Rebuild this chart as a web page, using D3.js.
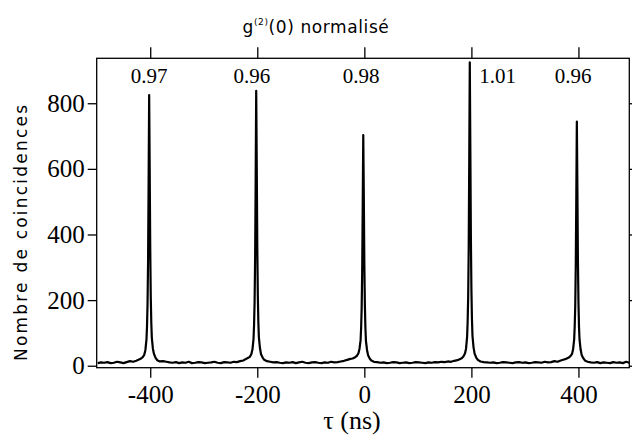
<!DOCTYPE html>
<html lang="fr">
<head>
  <meta charset="UTF-8" />
  <title>g2 coincidences</title>
  <script src="https://d3js.org/d3.v7.min.js"></script>
  <style>
    body { margin: 0; background: white; }
    svg { display: block; }
  </style>
</head>
<body>
  <svg id="chart" width="632" height="436"></svg>
  <script>
    const SERIF = '"Liberation Serif", "DejaVu Serif", serif';
    const SANS = '"DejaVu Sans", sans-serif';

    // delay tau (ns)
    const tau = [
      -498, -492, -486, -480, -474, -468, -462, -456, -450, -444, -438, -432, -426,
      -422, -417, -414, -411, -409, -407, -406, -405, -404, -403, -402, -401, -400, -399, -398, -397, -395, -393, -390, -387, -382,
      -376, -370, -364, -358, -352, -346, -340, -334, -328, -322, -316, -310, -304, -298, -292, -286, -280, -274, -268, -262, -256, -250, -244, -238, -232, -226,
      -222, -217, -214, -211, -209, -207, -206, -205, -204, -203, -202, -201, -200, -199, -198, -197, -195, -193, -190, -187, -182,
      -176, -170, -164, -158, -152, -146, -140, -134, -128, -122, -116, -110, -104, -98, -92, -86, -80, -74, -68, -62, -56, -50, -44, -38, -32, -26,
      -22, -17, -14, -11, -9, -7, -6, -5, -4, -3, -2, -1, 0, 1, 2, 3, 5, 7, 10, 13, 18,
      24, 30, 36, 42, 48, 54, 60, 66, 72, 78, 84, 90, 96, 102, 108, 114, 120, 126, 132, 138, 144, 150, 156, 162, 168, 174,
      177, 182, 185, 188, 190, 192, 193, 194, 195, 196, 197, 198, 199, 200, 201, 202, 204, 206, 209, 212, 217,
      223, 229, 235, 241, 247, 253, 259, 265, 271, 277, 283, 289, 295, 301, 307, 313, 319, 325, 331, 337, 343, 349, 355, 361, 367, 373,
      377, 382, 385, 388, 390, 392, 393, 394, 395, 396, 397, 398, 399, 400, 401, 402, 404, 406, 409, 412, 417,
      423, 429, 435, 441, 447, 453, 459, 465, 471, 477, 483, 489, 495
    ];

    // coincidence counts
    const counts = [
      8, 10, 9, 11, 8, 9, 12, 10, 8, 11, 14, 12, 15,
      18, 22, 26, 34, 48, 80, 120, 190, 320, 560, 825, 600, 360, 210, 130, 85, 52, 36, 24, 17, 13,
      14, 12, 10, 9, 11, 8, 10, 9, 12, 8, 9, 11, 10, 8, 9, 10, 12, 9, 8, 11, 10, 9, 12, 11, 14, 16,
      20, 24, 27, 36, 50, 82, 125, 195, 330, 570, 838, 610, 365, 215, 132, 86, 54, 35, 25, 18, 14,
      12, 10, 11, 9, 8, 10, 9, 11, 8, 10, 12, 9, 8, 10, 11, 9, 8, 10, 9, 12, 10, 11, 13, 15, 18, 21,
      22, 26, 30, 38, 52, 78, 115, 175, 290, 490, 703, 520, 310, 185, 115, 76, 48, 32, 22, 16, 12,
      11, 9, 10, 8, 9, 11, 10, 8, 9, 10, 8, 9, 11, 10, 9, 8, 10, 9, 11, 10, 12, 11, 13, 12, 15, 17,
      19, 23, 28, 37, 52, 88, 135, 210, 360, 630, 925, 670, 400, 235, 145, 92, 56, 37, 25, 18, 13,
      11, 10, 9, 10, 8, 9, 11, 10, 9, 8, 10, 11, 9, 10, 8, 9, 11, 10, 9, 12, 10, 11, 14, 12, 16, 19,
      21, 25, 29, 36, 50, 80, 120, 180, 305, 515, 744, 545, 325, 195, 120, 80, 50, 33, 23, 16, 12,
      10, 9, 11, 8, 10, 9, 8, 11, 9, 10, 8, 12, 9
    ];

    // normalised g2(0) per peak, and where the label sits (ns)
    const g2Values = ['0.97', '0.96', '0.98', '1.01', '0.96'];
    const g2LabelTau = [-402, -210, -6, 249, 390];
    const xTicks = [-400, -200, 0, 200, 400];
    const yTicks = [0, 200, 400, 600, 800];

    const svg = d3.select('#chart');
    const width = +svg.attr('width');
    const height = +svg.attr('height');
    const margin = { top: 58.3, right: 2.7, bottom: 68.3, left: 96.7 };

    const x = d3.scaleLinear().domain([-500, 495]).range([margin.left, width - margin.right]);
    const y = d3.scaleLinear().domain([-6, 937]).range([height - margin.bottom, margin.top]);

    const data = tau.map((t, i) => [t, counts[i]]);

    // frame
    svg.append('rect')
      .attr('x', x.range()[0])
      .attr('y', y.range()[1])
      .attr('width', x.range()[1] - x.range()[0])
      .attr('height', y.range()[0] - y.range()[1])
      .attr('fill', 'none')
      .attr('stroke', '#000')
      .attr('stroke-width', 1.3);

    const bottomAxis = svg.append('g')
      .attr('transform', `translate(0,${y.range()[0]})`)
      .call(d3.axisBottom(x).tickValues(xTicks).tickSize(10).tickPadding(8).tickFormat(d => String(d)));
    bottomAxis.selectAll('text').style('font-family', SERIF).style('font-size', '25px').attr('fill', '#000');

    svg.append('g')
      .attr('transform', `translate(0,${y.range()[1]})`)
      .call(d3.axisTop(x).tickValues(xTicks).tickSize(11).tickFormat(''));

    const leftAxis = svg.append('g')
      .attr('transform', `translate(${x.range()[0]},0)`)
      .call(d3.axisLeft(y).tickValues(yTicks).tickSize(9).tickPadding(3).tickFormat(d => String(d)));
    leftAxis.selectAll('text').style('font-family', SERIF).style('font-size', '25px').attr('fill', '#000');

    svg.append('g')
      .attr('transform', `translate(${x.range()[1]},0)`)
      .call(d3.axisRight(y).tickValues(yTicks).tickSize(9).tickFormat(''));

    svg.selectAll('.domain').remove();
    svg.selectAll('.tick line').attr('stroke', '#000').attr('stroke-width', 1.3);

    // trace
    const line = d3.line().x(d => x(d[0])).y(d => y(d[1]));
    svg.append('path')
      .datum(data)
      .attr('d', line)
      .attr('fill', 'none')
      .attr('stroke', '#000')
      .attr('stroke-width', 2.2)
      .attr('stroke-linejoin', 'round');

    // g2 labels
    svg.append('g')
      .selectAll('text')
      .data(g2Values)
      .join('text')
      .style('font-family', SERIF)
      .style('font-size', '21px')
      .attr('x', (d, i) => x(g2LabelTau[i]))
      .attr('y', y(862))
      .attr('text-anchor', 'middle')
      .text(d => d);

    // title
    const title = svg.append('text')
      .style('font-family', SANS)
      .style('font-size', '17px')
      .style('letter-spacing', '0.6px')
      .attr('x', 316)
      .attr('y', 33)
      .attr('text-anchor', 'middle');
    title.append('tspan').text('g');
    title.append('tspan').style('font-size', '9px').attr('dy', -8).text('(2)');
    title.append('tspan').attr('dy', 8).text('(0) normalisé');

    // axis labels
    svg.append('text')
      .style('font-family', SANS)
      .style('font-size', '17px')
      .attr('transform', 'translate(27,233) rotate(-90)')
      .attr('text-anchor', 'middle')
      .attr('textLength', 256)
      .attr('lengthAdjust', 'spacing')
      .text('Nombre de coincidences');

    svg.append('text')
      .style('font-family', SERIF)
      .style('font-size', '26px')
      .attr('x', 352)
      .attr('y', 429)
      .attr('text-anchor', 'middle')
      .text('τ (ns)');
  </script>
</body>
</html>
